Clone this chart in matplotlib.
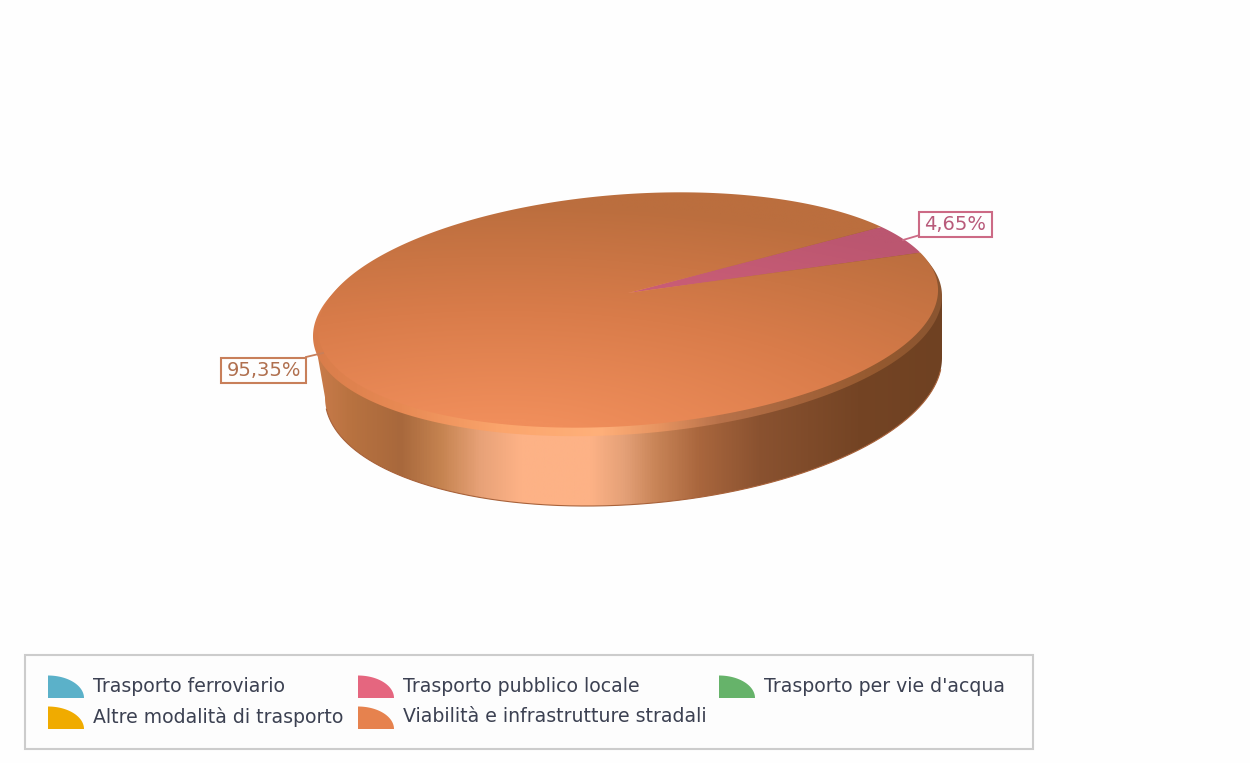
import numpy as np
import matplotlib
matplotlib.use("Agg")
import matplotlib.pyplot as plt
from matplotlib.colors import LinearSegmentedColormap
from matplotlib.patches import Polygon, Rectangle

categories = ["Trasporto ferroviario", "Trasporto pubblico locale", "Trasporto per vie d'acqua",
              "Altre modalità di trasporto", "Viabilità e infrastrutture stradali"]
values = [0.0, 4.65, 0.0, 0.0, 95.35]
legend_colors = ["#5bb1c9", "#e5667f", "#66b36a", "#f0ab00", "#e6824e"]

W, H = 1250, 763
fig = plt.figure(figsize=(W / 100, H / 100), dpi=100, facecolor="#fefefe")
ax = fig.add_axes([0, 0, 1, 1])
ax.set_xlim(0, W)
ax.set_ylim(H, 0)
ax.axis("off")

SHEAR = 0.064


def sheared_ellipse(cx, cy, a, b, t):
    return np.c_[cx + a * np.cos(t), cy + b * np.sin(t) - SHEAR * a * np.cos(t)]


def disc(u, v):
    """Project unit disc coordinates to the perspective top face."""
    k, A, B = 0.1465, 306.7, 113.5
    w = 1 + k * v
    dx = A * u / w
    return np.c_[628 + dx, 293 - B * v / w - SHEAR * dx]


def gradient_x(stops, clip, z):
    xs = np.array([s[0] for s in stops], float)
    cm = LinearSegmentedColormap.from_list(
        "g", [((x - xs[0]) / (xs[-1] - xs[0]), c) for x, c in stops])
    im = ax.imshow(np.linspace(0, 1, 700)[None, :], cmap=cm, aspect="auto",
                   extent=(xs[0], xs[-1], 520, 180), zorder=z, interpolation="bilinear")
    patch = Polygon(clip, closed=True, transform=ax.transData, fc="none", ec="none")
    ax.add_patch(patch)
    im.set_clip_path(patch)
    return im


# ---- side wall
bottom_arc = sheared_ellipse(633.5, 377.5, 308.5, 127, np.linspace(np.pi, 0, 400))
side_poly = np.vstack([[[314, 335]], bottom_arc, [[942, 296], [627, 250]]])
side_stops = [(310, "#cc7d4c"), (350, "#b87240"), (400, "#a8683c"), (440, "#c58350"),
              (480, "#e8a278"), (520, "#fdb286"), (590, "#fdb286"), (625, "#e4a077"),
              (655, "#c98558"), (700, "#a9663d"), (760, "#8a5230"), (860, "#744424"),
              (945, "#6f4122")]
gradient_x(side_stops, side_poly, 1)
ax.plot(bottom_arc[12:-12, 0], bottom_arc[12:-12, 1], color="#a8623a", lw=0.8, zorder=1.5)

# ---- bevel rim
rim_poly = sheared_ellipse(627.5, 316, 314.5, 118.5, np.linspace(0, 2 * np.pi, 500))
rim_stops = [(310, "#d87c4a"), (400, "#e88a54"), (500, "#fba56c"), (600, "#ffb07a"),
             (660, "#e69360"), (720, "#b8724a"), (800, "#a5643b"), (880, "#94592f"),
             (945, "#8a5531")]
gradient_x(rim_stops, rim_poly, 2)

# ---- top face: one wedge per value, with an elliptical radial shading
xx, yy = np.meshgrid(np.linspace(300, 950, 330), np.linspace(185, 440, 130))
dist = np.hypot((xx - 500) / 2.8, yy - 460)
shade = np.clip(1 - (dist - 40) / 218, 0, 1)
orange_cm = LinearSegmentedColormap.from_list("o", ["#bb6e3e", "#d97c4a", "#f08e5b"])
pink_cm = LinearSegmentedColormap.from_list("p", ["#bb5670", "#cf6079", "#e06a84"])
slice_cms = {1: pink_cm, 4: orange_cm}

start = 11.3
total = sum(values)
for i, val in enumerate(values):
    if val <= 0:
        continue
    span = 360 * val / total
    th = np.radians(np.linspace(start, start + span, max(int(span * 3), 30)))
    pts = np.vstack([[[628, 293]], disc(np.cos(th), np.sin(th))])
    im = ax.imshow(shade, cmap=slice_cms[i], vmin=0, vmax=1, aspect="auto",
                   extent=(300, 950, 440, 185), zorder=3, interpolation="bilinear")
    patch = Polygon(pts, closed=True, transform=ax.transData, fc="none", ec="none")
    ax.add_patch(patch)
    im.set_clip_path(patch)
    start += span

ax.set_xlim(0, W)
ax.set_ylim(H, 0)

# ---- value labels
label_font = dict(family="DejaVu Sans", fontsize=14, ha="center", va="center", zorder=6)


def value_label(val, box, leader, edge, txt):
    x0, y0, x1, y1 = box
    ax.plot(*zip(*leader), color=edge, lw=1.3, zorder=5)
    ax.add_patch(Rectangle((x0, y0), x1 - x0, y1 - y0, fc="#fefefe", ec=edge, lw=1.5, zorder=5))
    ax.text((x0 + x1) / 2, (y0 + y1) / 2, f"{val:.2f}%".replace(".", ","), color=txt, **label_font)


value_label(values[1], (919, 211.5, 991.5, 236.5), [(903, 240), (920, 235)], "#cc6a85", "#b85a7a")
value_label(values[4], (221, 357.5, 306, 383), [(306, 357), (323, 353)], "#c87f5a", "#b0704f")

# ---- legend
ax.add_patch(Rectangle((25, 655), 1008, 94, fc="#fdfdfd", ec="#cccccc", lw=1.5, zorder=1))
col_x = [48, 358, 719, 48, 358]
row_y = [698, 698, 698, 729, 729]
ang = np.linspace(0, np.pi / 2, 40)
for name, c, x, y in zip(categories, legend_colors, col_x, row_y):
    icon = np.vstack([[[x, y]], np.c_[x + 36 * np.cos(ang), y - 22.5 * np.sin(ang)]])
    ax.add_patch(Polygon(icon, closed=True, fc=c, ec="none", zorder=2))
    ax.text(x + 45, y - 12, name, family="DejaVu Sans", fontsize=13.55, color="#3c4152",
            ha="left", va="center", zorder=3)

fig.savefig("out.png", dpi=100, facecolor=fig.get_facecolor())
